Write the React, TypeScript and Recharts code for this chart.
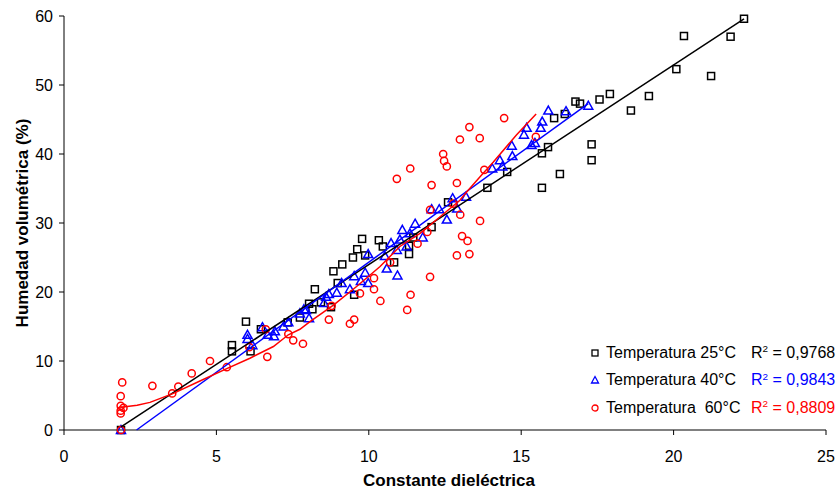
import { ScatterChart, Scatter, XAxis, YAxis, Legend, Label } from 'recharts';

// Temperatura 25°C
const t25X = [1.87, 5.51, 5.51, 5.97, 6.12, 6.46, 7.34, 7.74, 8.04, 8.15, 8.23, 8.43, 8.76, 8.84, 9.13, 8.98, 9.48, 9.62, 9.78, 9.88, 10.33, 10.46, 9.52, 10.83, 11.32, 11.32, 11.46, 12.06, 12.6, 13.89, 14.54, 15.68, 15.68, 15.88, 16.27, 16.08, 16.43, 16.78, 16.93, 17.31, 17.31, 17.57, 17.91, 18.6, 19.19, 20.09, 20.34, 21.23, 21.87, 22.31];
const t25Y = [0, 12.3, 11.4, 15.7, 11.4, 14.6, 15.6, 16.3, 18.3, 17.5, 20.4, 18.5, 17.8, 23.0, 24.0, 21.3, 25.0, 26.2, 27.7, 25.3, 27.5, 26.6, 19.6, 24.3, 25.5, 26.7, 27.9, 29.4, 33.0, 35.1, 37.4, 35.1, 40.1, 41.0, 37.1, 45.2, 45.8, 47.6, 47.3, 41.4, 39.1, 47.9, 48.7, 46.3, 48.4, 52.3, 57.1, 51.3, 57.0, 59.6];

// Temperatura 40°C
const t40X = [1.87, 6.02, 6.02, 6.18, 6.51, 6.68, 6.92, 6.89, 7.2, 7.36, 7.74, 7.87, 8.04, 7.94, 8.53, 8.6, 8.69, 8.95, 9.11, 9.38, 9.52, 9.74, 9.88, 9.98, 9.98, 10.53, 10.59, 10.73, 10.92, 10.94, 11.02, 11.1, 11.24, 11.35, 11.52, 11.77, 12.06, 12.31, 12.56, 12.75, 12.9, 13.19, 14.05, 14.3, 14.38, 14.71, 14.69, 15.09, 15.18, 15.34, 15.45, 15.64, 15.69, 15.89, 16.47, 17.2];
const t40Y = [0, 13.8, 13.2, 12.3, 14.9, 13.8, 14.3, 13.6, 15.0, 15.6, 16.9, 17.5, 16.2, 17.4, 18.4, 19.3, 19.7, 19.9, 21.3, 20.4, 22.3, 21.6, 22.8, 21.3, 25.5, 25.2, 23.4, 27.1, 26.1, 22.4, 27.6, 29.0, 26.6, 28.5, 29.9, 27.9, 32.0, 32.0, 30.5, 33.6, 32.1, 33.8, 37.9, 39.1, 38.2, 39.7, 41.2, 42.8, 43.8, 41.3, 41.6, 43.8, 44.7, 46.3, 46.2, 47.0];

// Temperatura 60°C
const t60X = [1.87, 1.91, 1.86, 1.86, 1.95, 1.86, 1.86, 2.9, 3.55, 3.75, 4.19, 4.79, 5.34, 6.08, 6.62, 6.67, 7.36, 7.52, 7.84, 8.69, 8.78, 9.38, 9.52, 9.71, 10.17, 10.17, 10.38, 10.7, 10.92, 11.26, 11.37, 11.36, 11.6, 12.01, 12.06, 11.92, 12.01, 12.44, 12.47, 12.56, 12.89, 12.99, 13.0, 13.06, 13.24, 13.3, 12.89, 13.3, 13.64, 13.65, 13.79, 14.44, 15.48, 12.77];
const t60Y = [0, 6.9, 4.9, 3.5, 3.2, 2.8, 2.4, 6.4, 5.3, 6.3, 8.2, 10.0, 9.1, 12.0, 14.6, 10.6, 13.9, 13.0, 12.5, 16.0, 18.0, 15.4, 16.0, 19.8, 22.0, 20.4, 18.7, 24.3, 36.4, 17.4, 19.6, 37.9, 27.0, 22.2, 35.5, 28.7, 31.9, 40.0, 39.0, 38.2, 35.8, 42.1, 31.2, 28.1, 27.4, 25.5, 25.3, 43.9, 42.3, 30.3, 37.7, 45.2, 42.5, 32.8];

// trend lines
const trend25X = [1.87, 22.31];
const trend25Y = [0.45, 59.6];
const trend40X = [2.38, 17.2];
const trend40Y = [0, 47.3];
const trend60X = [1.87, 2.4, 2.82, 3.59, 4.46, 5.34, 6.1, 6.87, 7.36, 7.74, 8.07, 8.84, 9.6, 10.37, 11.02, 11.68, 12.34, 12.99, 13.21, 13.65, 14.08, 14.85, 15.49];
const trend60Y = [3.3, 3.6, 4.0, 5.3, 7.1, 8.9, 10.4, 12.1, 13.8, 14.6, 15.7, 18.1, 20.8, 23.7, 26.6, 28.5, 30.9, 33.3, 34.5, 36.7, 38.8, 42.8, 45.8];

const xTicks = [0, 5, 10, 15, 20, 25];
const yTicks = [0, 10, 20, 30, 40, 50, 60];

const seriesNames = ['Temperatura 25°C', 'Temperatura 40°C', 'Temperatura  60°C'];
const r2Values = ['0,9768', '0,9843', '0,8809'];
const seriesColors = ['#000000', '#0000ff', '#ff0000'];

const zip = (xs: number[], ys: number[]) => xs.map((x, i) => ({ x, y: ys[i] }));

const FONT = '"Liberation Sans", Arial, sans-serif';

const SquareDot = (props: any) => {
  const { cx, cy } = props;
  return <rect x={cx - 3.5} y={cy - 3.5} width={7} height={7} fill="none" stroke="#000" strokeWidth={1.5} />;
};
const TriangleDot = (props: any) => {
  const { cx, cy } = props;
  return <path d={`M${cx},${cy - 4.5}L${cx + 4.5},${cy + 3.5}L${cx - 4.5},${cy + 3.5}Z`} fill="none" stroke="#0000ff" strokeWidth={1.5} />;
};
const CircleDot = (props: any) => {
  const { cx, cy } = props;
  return <circle cx={cx} cy={cy} r={3.6} fill="none" stroke="#ff0000" strokeWidth={1.5} />;
};
const NoDot = () => <g />;

const legendMarkers = [
  <rect x={2} y={2} width={6} height={6} fill="none" stroke="#000" strokeWidth={1.3} />,
  <path d="M5,1.5L8.5,8L1.5,8Z" fill="none" stroke="#0000ff" strokeWidth={1.3} />,
  <circle cx={5} cy={5} r={3} fill="none" stroke="#ff0000" strokeWidth={1.3} />,
];

const renderLegend = () => (
  <div style={{ fontFamily: FONT, fontSize: 16, color: '#000' }}>
    {seriesNames.map((name, i) => (
      <div key={name} style={{ display: 'flex', alignItems: 'center', height: 27.5 }}>
        <svg width={10} height={10} style={{ marginRight: 6 }}>{legendMarkers[i]}</svg>
        <span style={{ width: 145, whiteSpace: 'pre' }}>{name}</span>
        <span style={{ color: seriesColors[i], whiteSpace: 'pre' }}>
          R<span style={{ fontSize: '0.62em', position: 'relative', top: '-0.55em' }}>2</span> = {r2Values[i]}
        </span>
      </div>
    ))}
  </div>
);

const YTitle = (props: any) => {
  const { viewBox } = props;
  const cx = 28;
  const cy = viewBox.y + viewBox.height / 2;
  return (
    <text x={cx} y={cy} transform={`rotate(-90, ${cx}, ${cy})`} textAnchor="middle" fontFamily={FONT} fontSize={17} fontWeight="bold" fill="#000">
      Humedad volumétrica (%)
    </text>
  );
};

export default function App() {
  return (
    <div style={{ position: 'absolute', left: 0, top: 0, width: 838, height: 493, background: '#fff' }}>
      <ScatterChart width={838} height={493} margin={{ top: 16, right: 12, bottom: 0, left: 0 }}>
        <XAxis
          type="number"
          dataKey="x"
          domain={[0, 25]}
          ticks={xTicks}
          height={63}
          axisLine={{ stroke: '#808080', strokeWidth: 2 }}
          tickLine={{ stroke: '#000' }}
          tickSize={5}
          tickMargin={16}
          tick={{ fill: '#000', fontSize: 16, fontFamily: FONT }}
        >
          <Label value="Constante dieléctrica" position="insideBottom" offset={7} dx={4} style={{ fontFamily: FONT, fontSize: 17, fontWeight: 'bold', fill: '#000' }} />
        </XAxis>
        <YAxis
          type="number"
          dataKey="y"
          domain={[0, 60]}
          ticks={yTicks}
          width={64}
          axisLine={{ stroke: '#000' }}
          tickLine={{ stroke: '#000' }}
          tickSize={5}
          tickMargin={6}
          tick={{ fill: '#000', fontSize: 16, fontFamily: FONT }}
        >
          <Label content={<YTitle />} />
        </YAxis>
        <Legend
          layout="vertical"
          align="center"
          verticalAlign="middle"
          content={renderLegend}
          wrapperStyle={{ position: 'absolute', left: 590, top: 339, width: 248 }}
        />
        <Scatter name="t25" data={zip(t25X, t25Y)} shape={SquareDot} isAnimationActive={false} />
        <Scatter name="t40" data={zip(t40X, t40Y)} shape={TriangleDot} isAnimationActive={false} />
        <Scatter name="t60" data={zip(t60X, t60Y)} shape={CircleDot} isAnimationActive={false} />
        <Scatter data={zip(trend25X, trend25Y)} line={{ stroke: '#000', strokeWidth: 1.5 }} shape={NoDot} isAnimationActive={false} legendType="none" />
        <Scatter data={zip(trend40X, trend40Y)} line={{ stroke: '#0000ff', strokeWidth: 1.5 }} shape={NoDot} isAnimationActive={false} legendType="none" />
        <Scatter data={zip(trend60X, trend60Y)} line={{ stroke: '#ff0000', strokeWidth: 1.5 }} shape={NoDot} isAnimationActive={false} legendType="none" />
      </ScatterChart>
    </div>
  );
}
